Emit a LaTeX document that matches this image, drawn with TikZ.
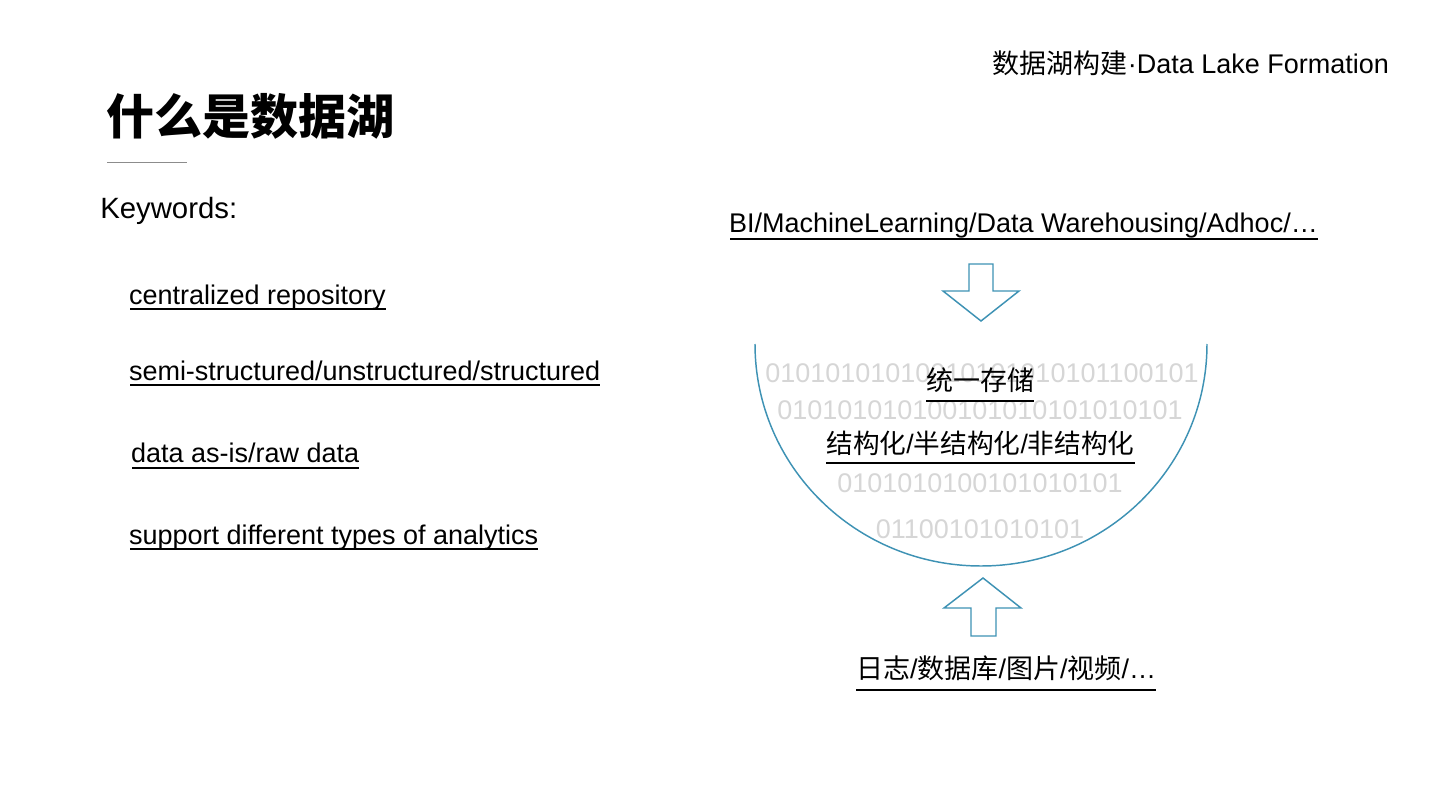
\documentclass[tikz,border=0pt]{standalone}
\usepackage{fontspec}
\setmainfont{Liberation Sans}
\newfontfamily\cjk{Noto Sans CJK SC}
\usetikzlibrary{calc}
\definecolor{lakeblue}{RGB}{62,146,180}
\definecolor{bingray}{RGB}{214,214,214}
\newcommand{\latslash}{{\rmfamily/}}
\begin{document}
\begin{tikzpicture}[x=0.75pt,y=-0.75pt,
  txt/.style={inner sep=0pt,outer sep=0pt,font=\fontsize{20.25}{24}\selectfont},
  bin/.style={inner sep=0pt,outer sep=0pt,anchor=base,text=bingray,font=\fontsize{20.25}{24}\selectfont},
  uline/.style={line width=1.5pt,black},
  blockarrow/.style={draw=lakeblue,line width=1.1pt,line join=miter,fill=white}]
\useasboundingbox (0,0) rectangle (1440,810);
% header
\node[txt,anchor=base east] (hdr) at (1389,73) {{\cjk 数据湖构建}·Data Lake Formation};
% title
\node[inner sep=0pt,anchor=base west,font=\fontsize{36}{40}\selectfont\cjk\bfseries] (title) at (106,134) {什么是数据湖};
\draw[line width=0.75pt,black!45] (107,162) coordinate (r1) -- (187,162) coordinate (r2);
% keywords
\node[inner sep=0pt,anchor=base west,font=\fontsize{22}{26}\selectfont] (kw) at (100,218) {Keywords:};
\node[txt,anchor=base west] (k1) at (129,304) {centralized repository};
\node[txt,anchor=base west] (k2) at (129,380) {semi-structured/unstructured/structured};
\node[txt,anchor=base west] (k3) at (131,462) {data as-is/raw data};
\node[txt,anchor=base west] (k4) at (129,544) {support different types of analytics};
\draw[uline] ($(k1.base west)+(1,5)$) -- ($(k1.base east)+(0,5)$);
\draw[uline] ($(k2.base west)+(1,5)$) -- ($(k2.base east)+(0,5)$);
\draw[uline] ($(k3.base west)+(1,6)$) -- ($(k3.base east)+(0,6)$);
\draw[uline] ($(k4.base west)+(1,5)$) -- ($(k4.base east)+(0,5)$);
% top use cases
\node[txt,anchor=base west] (bi) at (729,232) {BI/MachineLearning/Data Warehousing/Adhoc/…};
\draw[uline] ($(bi.base west)+(1,7)$) -- ($(bi.base east)+(0,7)$);
% down arrow
\draw[blockarrow] (969,264) -- (993,264) -- (993,291) -- (1019,291) -- (981,321) -- (943,291) -- (969,291) -- cycle;
% lake (semicircle)
\draw[lakeblue,line width=1.1pt] (755,344) arc[start angle=180,end angle=0,x radius=226,y radius=222];
% binary background
\node[bin] (b1) at (982,382) {01010101010010101010101100101};
\node[bin] (b2) at (980,419) {010101010100101010101010101};
\node[bin] (b3) at (980,492) {0101010100101010101};
\node[bin] (b4) at (980,538) {01100101010101};
% lake texts
\node[txt,anchor=base,font=\fontsize{20.25}{24}\selectfont\cjk] (s1) at (980,390) {统一存储};
\draw[uline] ($(s1.base west)+(0,10.5)$) -- ($(s1.base east)+(0,10.5)$);
\node[txt,anchor=base,font=\fontsize{20}{24}\selectfont\cjk] (s2) at (980.5,453) {结构化\latslash 半结构化\latslash 非结构化};
\draw[uline] ($(s2.base west)+(0,9.5)$) -- ($(s2.base east)+(0,9.5)$);
% up arrow
\draw[blockarrow] (971,636) -- (996,636) -- (996,608) -- (1021,608) -- (983,578) -- (944,608) -- (971,608) -- cycle;
% sources
\node[txt,anchor=base west] (src) at (856,678) {{\cjk 日志\latslash 数据库\latslash 图片\latslash 视频}/…};
\draw[uline] ($(src.base west)+(0,12)$) -- ($(src.base east)+(0,12)$);
\end{tikzpicture}
\end{document}
